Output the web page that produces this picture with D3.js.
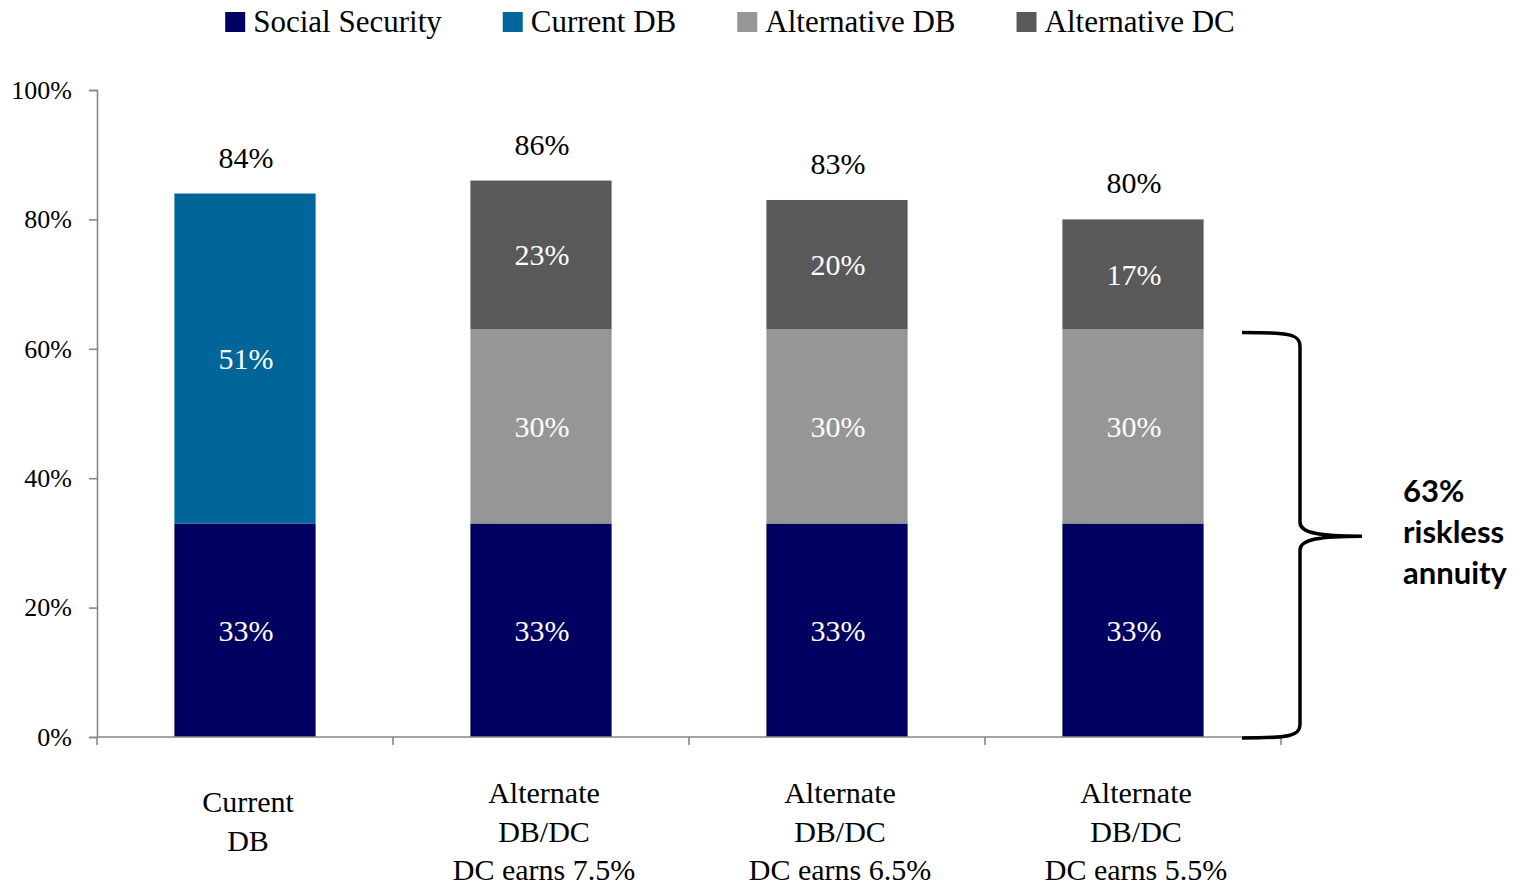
<!DOCTYPE html>
<html>
<head>
<meta charset="utf-8">
<script src="https://cdn.jsdelivr.net/npm/d3@7"></script>
<style>
  html, body { margin: 0; padding: 0; background: #fff; }
  svg { display: block; }
</style>
</head>
<body>
<svg id="chart" width="1523" height="887"></svg>
<script>
// Replacement-rate breakdown by plan design
const categories = ["Current DB", "Alt 7.5", "Alt 6.5", "Alt 5.5"];
const categoryLines = [
  ["Current", "DB"],
  ["Alternate", "DB/DC", "DC earns 7.5%"],
  ["Alternate", "DB/DC", "DC earns 6.5%"],
  ["Alternate", "DB/DC", "DC earns 5.5%"]
];
const seriesNames = ["Social Security", "Current DB", "Alternative DB", "Alternative DC"];
const socialSecurity = [33, 33, 33, 33];
const currentDB      = [51, 0, 0, 0];
const alternativeDB  = [0, 30, 30, 30];
const alternativeDC  = [0, 23, 20, 17];
const totals         = [84, 86, 83, 80];
const yTicks = [0, 20, 40, 60, 80, 100];
const bracketValue = 63;
const bracketLabel = ["63%", "riskless", "annuity"];

const colors = ["#000060", "#006699", "#969696", "#595959"];
const serif = "'Liberation Serif', 'Times New Roman', serif";

const svg = d3.select("#chart");
const plotLeft = 97, plotRight = 1281, plotTop = 90, plotBottom = 737;

const y = d3.scaleLinear().domain([0, 100]).range([plotBottom, plotTop]);
const x = d3.scaleBand().domain(categories).range([plotLeft, plotRight])
  .paddingInner(0.523).paddingOuter(0.2615);

// stack the four series
const rows = categories.map((c, i) => ({
  cat: c,
  "Social Security": socialSecurity[i],
  "Current DB": currentDB[i],
  "Alternative DB": alternativeDB[i],
  "Alternative DC": alternativeDC[i]
}));
const stacked = d3.stack().keys(seriesNames)(rows);

// bars
const layers = svg.append("g").selectAll("g").data(stacked).join("g")
  .attr("fill", (d, i) => colors[i]);
layers.selectAll("rect").data(d => d.filter(s => s[1] - s[0] > 0)).join("rect")
  .attr("x", d => x(d.data.cat))
  .attr("width", x.bandwidth())
  .attr("y", d => y(d[1]))
  .attr("height", d => y(d[0]) - y(d[1]));

// segment labels
layers.selectAll("text").data(d => d.filter(s => s[1] - s[0] > 0)).join("text")
  .attr("x", d => x(d.data.cat) + x.bandwidth() / 2 + 1)
  .attr("y", d => (y(d[0]) + y(d[1])) / 2)
  .attr("dy", "0.35em")
  .attr("text-anchor", "middle")
  .attr("fill", "#fff")
  .style("font-family", serif)
  .style("font-size", "30px")
  .text(d => (d[1] - d[0]) + "%");

// totals above bars
svg.append("g").selectAll("text").data(categories).join("text")
  .attr("x", c => x(c) + x.bandwidth() / 2 + 1)
  .attr("y", (c, i) => y(totals[i]) - 26)
  .attr("text-anchor", "middle")
  .attr("fill", "#000")
  .style("font-family", serif)
  .style("font-size", "30px")
  .text((c, i) => totals[i] + "%");

// y axis
const yAxis = svg.append("g").attr("transform", `translate(${plotLeft},0)`)
  .call(d3.axisLeft(y).tickValues(yTicks).tickSize(8).tickPadding(17)
    .tickFormat(d => d + "%"));
yAxis.select(".domain").attr("stroke", "#878787").attr("stroke-width", 1.6);
yAxis.selectAll(".tick line").attr("stroke", "#878787").attr("stroke-width", 1.6);
yAxis.selectAll(".tick text")
  .style("font-family", serif).style("font-size", "26px").attr("fill", "#000");

// x axis baseline and category boundary ticks
const xg = svg.append("g");
xg.append("line").attr("x1", plotLeft).attr("x2", plotRight)
  .attr("y1", plotBottom).attr("y2", plotBottom)
  .attr("stroke", "#878787").attr("stroke-width", 1.6);
xg.selectAll("line.b").data(d3.range(categories.length + 1)).join("line")
  .attr("class", "b")
  .attr("x1", i => plotLeft + i * x.step()).attr("x2", i => plotLeft + i * x.step())
  .attr("y1", plotBottom).attr("y2", plotBottom + 8)
  .attr("stroke", "#878787").attr("stroke-width", 1.6);

// category labels
const catG = svg.append("g").selectAll("text").data(categories).join("text")
  .attr("text-anchor", "middle")
  .attr("fill", "#000")
  .style("font-family", serif)
  .style("font-size", "30px");
catG.each(function (c, i) {
  const lines = categoryLines[i];
  const y0 = 830 - 9 * lines.length;
  d3.select(this).selectAll("tspan").data(lines).join("tspan")
    .attr("x", x(c) + x.bandwidth() / 2 + 3)
    .attr("y", (l, j) => y0 + j * 38.5)
    .text(l => l);
});

// legend
const legend = svg.append("g");
const items = legend.selectAll("g").data(seriesNames).join("g");
items.append("rect").attr("width", 20).attr("height", 20).attr("y", 12)
  .attr("fill", (d, i) => colors[i]);
items.append("text").attr("x", 28).attr("y", 32)
  .style("font-family", serif).style("font-size", "31px")
  .attr("fill", "#000").text(d => d);
const widths = [];
items.each(function () {
  const w = d3.select(this).select("text").node().getComputedTextLength() + 28;
  widths.push(w);
});
const gap = 61;
const totalW = d3.sum(widths) + gap * (widths.length - 1);
let cursor = 730 - totalW / 2;
items.attr("transform", (d, i) => {
  const t = `translate(${cursor},0)`;
  cursor += widths[i] + gap;
  return t;
});

// bracket marking the riskless annuity share
const yTop = y(bracketValue) + 3, yBot = y(0) + 1, yMid = (yTop + yBot) / 2 + 1;
const bx0 = 1242, bx = 1300, tip = 1362;
const path = d3.path();
path.moveTo(bx0, yTop);
path.bezierCurveTo(bx - 10, yTop, bx, yTop + 2, bx, yTop + 14);
path.lineTo(bx, yMid - 14);
path.bezierCurveTo(bx, yMid - 3, bx + 20, yMid, tip, yMid);
path.moveTo(tip, yMid);
path.bezierCurveTo(bx + 20, yMid, bx, yMid + 3, bx, yMid + 14);
path.lineTo(bx, yBot - 14);
path.bezierCurveTo(bx, yBot - 2, bx - 10, yBot, bx0, yBot);
svg.append("path").attr("d", path.toString())
  .attr("fill", "none").attr("stroke", "#000").attr("stroke-width", 3.5);

svg.append("g").selectAll("text").data(bracketLabel).join("text")
  .attr("x", 1403)
  .attr("y", (d, i) => 502 + i * 41)
  .style("font-family", "Lato, 'Open Sans', sans-serif")
  .style("font-weight", "bold")
  .style("font-size", "31px")
  .attr("fill", "#000")
  .text(d => d);
</script>
</body>
</html>
